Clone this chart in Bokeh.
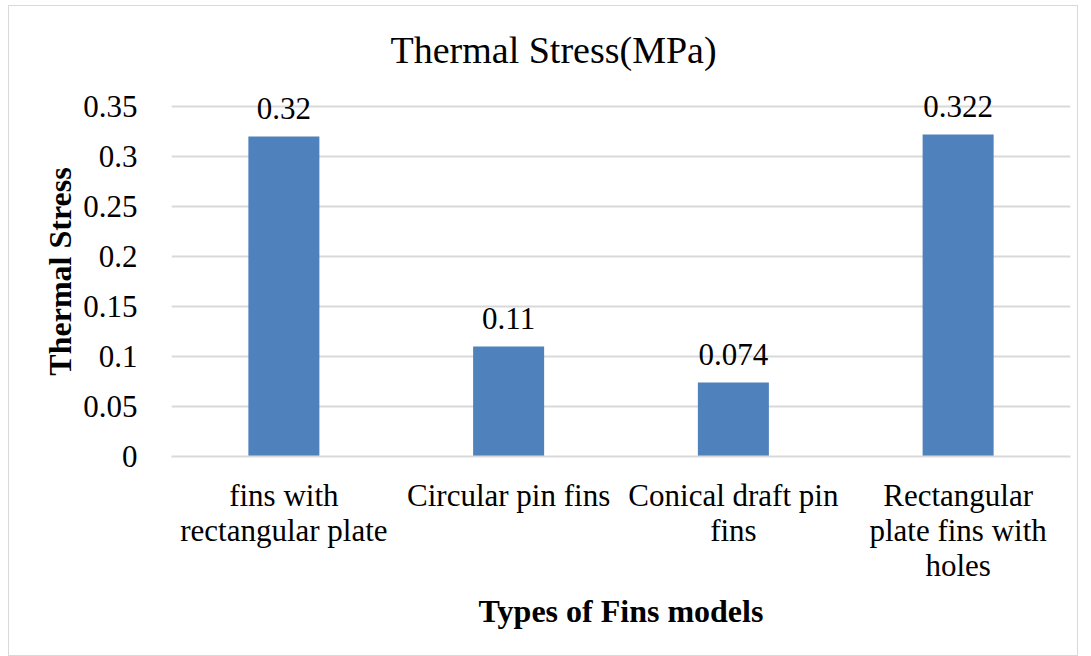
from bokeh.plotting import figure
from bokeh.models import ColumnDataSource, LabelSet, FixedTicker, Range1d, FactorRange
from bokeh.embed import file_html
from bokeh.resources import INLINE

# ---- data ----
categories = ["fins with\nrectangular plate", "Circular pin fins",
              "Conical draft pin\nfins", "Rectangular\nplate fins with\nholes"]
values = [0.32, 0.11, 0.074, 0.322]
value_labels = ["0.32", "0.11", "0.074", "0.322"]
y_ticks = [0, 0.05, 0.1, 0.15, 0.2, 0.25, 0.3, 0.35]
y_tick_labels = ["0", "0.05", "0.1", "0.15", "0.2", "0.25", "0.3", "0.35"]

FONT = "Liberation Serif"
BAR = "#4F81BD"
GRID = "#d9d9d9"

src = ColumnDataSource(dict(cat=categories, val=values, lab=value_labels))

p = figure(x_range=FactorRange(*categories, range_padding=0),
           y_range=Range1d(0, 0.37),
           width=1070, height=651, output_backend="svg", toolbar_location=None,
           min_border_left=162, min_border_right=9, min_border_top=80,
           min_border_bottom=201)
p.margin = (5, 0, 0, 8)
p.styles = {"border": "1px solid #d9d9d9", "box-sizing": "border-box"}
p.outline_line_color = None
p.background_fill_color = "white"
p.border_fill_color = "white"

p.vbar(x="cat", top="val", width=0.316, source=src, color=BAR, line_color=None)

labels = LabelSet(x="cat", y="val", text="lab", source=src, text_align="center",
                  text_baseline="alphabetic", y_offset=18,
                  text_font=FONT, text_font_size="31px", text_color="black")
p.add_layout(labels)

# title
p.title.text = "Thermal Stress(MPa)"
p.title.align = "left"
p.title.offset = 219
p.title.text_font = FONT
p.title.text_font_size = "38px"
p.title.text_font_style = "normal"
p.title.text_color = "black"
p.title.standoff = 32

# y axis
p.yaxis.ticker = FixedTicker(ticks=y_ticks)
p.yaxis.major_label_overrides = {t: l for t, l in zip(y_ticks, y_tick_labels)}
p.yaxis.axis_line_color = None
p.yaxis.major_tick_line_color = None
p.yaxis.minor_tick_line_color = None
p.yaxis.major_label_text_font = FONT
p.yaxis.major_label_text_font_size = "31px"
p.yaxis.major_label_text_color = "black"
p.yaxis.major_label_standoff = 28
p.yaxis.axis_label = "Thermal Stress"
p.yaxis.axis_label_text_font = FONT
p.yaxis.axis_label_text_font_size = "32px"
p.yaxis.axis_label_text_font_style = "bold"
p.yaxis.axis_label_text_color = "black"
p.yaxis.axis_label_standoff = 2

# x axis
p.xaxis.axis_line_color = GRID
p.xaxis.axis_line_width = 2
p.xaxis.major_tick_line_color = None
p.xaxis.minor_tick_line_color = None
p.xaxis.major_label_text_font = FONT
p.xaxis.major_label_text_font_size = "31px"
p.xaxis.major_label_text_color = "black"
p.xaxis.major_label_text_line_height = 1.0
p.xaxis.major_label_standoff = 15
p.xaxis.major_label_orientation = "horizontal"
p.xaxis.axis_label = "Types of Fins models"
p.xaxis.axis_label_text_font = FONT
p.xaxis.axis_label_text_font_size = "32px"
p.xaxis.axis_label_text_font_style = "bold"
p.xaxis.axis_label_text_color = "black"
p.xaxis.axis_label_standoff = 7

p.xgrid.grid_line_color = None
p.ygrid.grid_line_color = GRID
p.ygrid.grid_line_width = 2

open("out.html", "w").write(file_html(p, INLINE))
